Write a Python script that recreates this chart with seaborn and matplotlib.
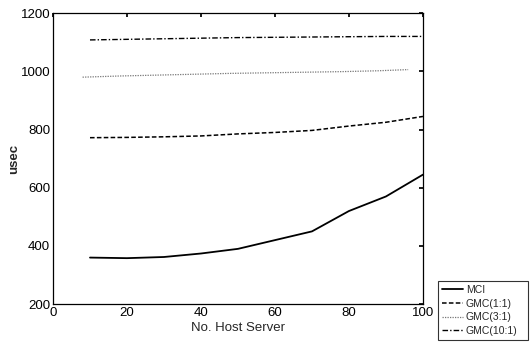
import matplotlib
matplotlib.use("Agg")
import matplotlib.pyplot as plt
import seaborn as sns
import pandas as pd

x_main = [10, 20, 30, 40, 50, 60, 70, 80, 90, 100]
mci = [360, 358, 362, 374, 390, 420, 450, 520, 570, 645]
gmc11 = [772, 773, 775, 778, 785, 790, 797, 812, 825, 845]
x_31 = [8, 18, 28, 38, 48, 58, 68, 78, 88, 96]
gmc31 = [980, 984, 987, 990, 993, 995, 997, 999, 1002, 1006]
gmc101 = [1108, 1110, 1112, 1114, 1116, 1117, 1118, 1119, 1120, 1120]
labels = ["MCI", "GMC(1:1)", "GMC(3:1)", "GMC(10:1)"]

sns.set_theme(style="white")
plt.rcParams['font.family'] = ['Liberation Sans', 'DejaVu Sans']

fig = plt.figure(figsize=(5.3, 3.46), dpi=100)
ax = fig.add_axes([0.1, 0.121, 0.698, 0.841])

df1 = pd.DataFrame({"x": x_main, "y": mci})
df2 = pd.DataFrame({"x": x_main, "y": gmc11})
df3 = pd.DataFrame({"x": x_31, "y": gmc31})
df4 = pd.DataFrame({"x": x_main, "y": gmc101})

sns.lineplot(data=df1, x="x", y="y", ax=ax, color="black", lw=1.3, linestyle="-", label=labels[0])
sns.lineplot(data=df2, x="x", y="y", ax=ax, color="black", lw=1.1, linestyle=(0, (3, 1.5)), label=labels[1])
sns.lineplot(data=df3, x="x", y="y", ax=ax, color="#777777", lw=0.9, linestyle=(0, (1, 1)), label=labels[2])
sns.lineplot(data=df4, x="x", y="y", ax=ax, color="black", lw=1.0, linestyle=(0, (4, 1.5, 1, 1.5)), label=labels[3])

ax.set_xlim(0, 100)
ax.set_ylim(200, 1200)
ax.set_xticks([0, 20, 40, 60, 80, 100])
ax.set_yticks([200, 400, 600, 800, 1000, 1200])
ax.tick_params(direction="in", length=3, labelsize=9.5, colors="black", top=True, right=True, pad=2)
for s in ax.spines.values():
    s.set_color("black")
    s.set_linewidth(0.9)
ax.set_xlabel("No. Host Server", fontsize=9.5, labelpad=2)
ax.set_ylabel("usec", fontsize=9.5, fontweight="bold")
ax.yaxis.set_label_coords(-0.088, 0.5)

leg = ax.legend(loc="lower left", bbox_to_anchor=(0.826, 0.017, 0.17, 0.18),
                bbox_transform=fig.transFigure, mode="expand", fontsize=7.5,
                frameon=True, fancybox=False, edgecolor="black", handlelength=2.0,
                borderpad=0.4, labelspacing=0.35, handletextpad=0.3, borderaxespad=0)
leg.get_frame().set_linewidth(0.8)

fig.savefig("out.png", dpi=100)
